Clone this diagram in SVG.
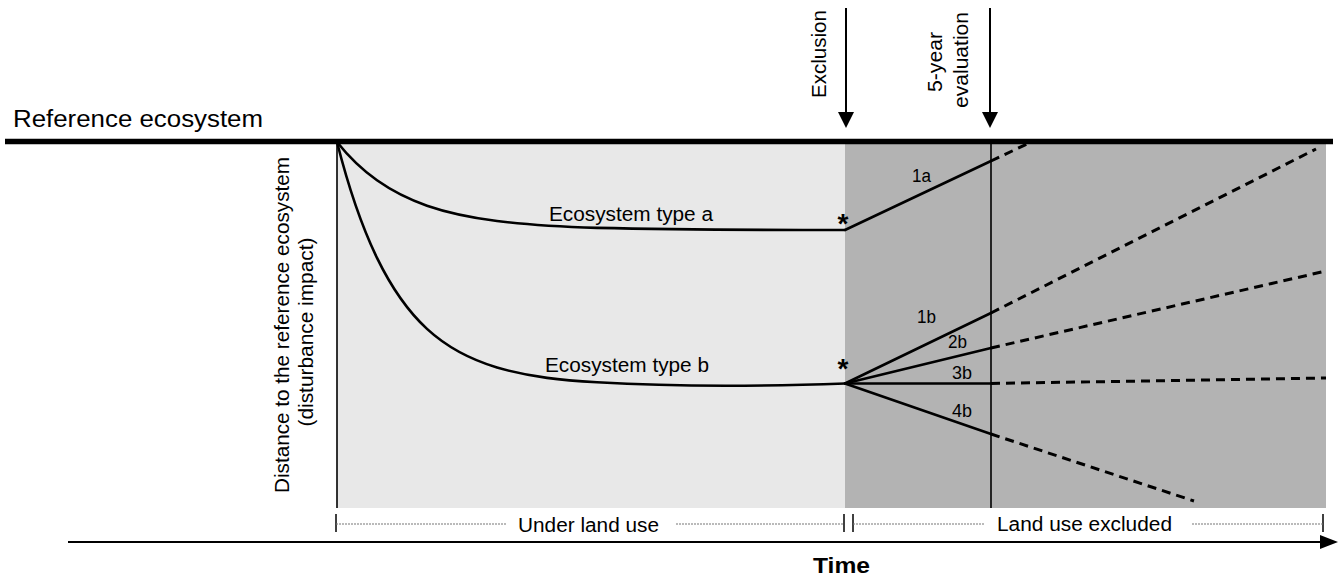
<svg xmlns="http://www.w3.org/2000/svg" width="1340" height="579" viewBox="0 0 1340 579">
<defs>
<style>
text{font-family:"Liberation Sans",Arial,sans-serif;fill:#000}
.lbl{font-size:20px}
.num{font-size:18px}
.ast{font-size:28px;font-weight:bold}
.solid{stroke:#000;stroke-width:2.6;fill:none;stroke-linecap:round}
.dash{stroke:#000;stroke-width:3;fill:none;stroke-dasharray:9 6}
.dot{stroke:#777;stroke-width:1.2;stroke-dasharray:2 1;fill:none}
.tick{stroke:#000;stroke-width:1.5}
.vline{stroke:#000;stroke-width:1.6}
</style>
</defs>
<rect width="1340" height="579" fill="#fff"/>
<g id="background">
<rect x="337" y="144" width="508" height="364" fill="#e8e8e8"/>
<rect x="845" y="144" width="481" height="364" fill="#b3b3b3"/>
<line class="vline" x1="337" y1="142" x2="337" y2="508"/>
<line class="vline" x1="991" y1="142" x2="991" y2="508"/>
</g>
<g id="reference">
<line x1="5" y1="141.5" x2="1333" y2="141.5" stroke="#000" stroke-width="5.5"/>
<text x="13" y="127" style="font-size:23px" textLength="250" lengthAdjust="spacingAndGlyphs">Reference ecosystem</text>
</g>
<g id="yaxis-label">
<text class="lbl" transform="translate(289,325) rotate(-90)" text-anchor="middle" textLength="336" lengthAdjust="spacingAndGlyphs">Distance to the reference ecosystem</text>
<text class="lbl" transform="translate(313,332) rotate(-90)" text-anchor="middle" textLength="189" lengthAdjust="spacingAndGlyphs">(disturbance impact)</text>
</g>
<g id="events">
<line x1="846" y1="8" x2="846" y2="114" stroke="#000" stroke-width="2"/>
<polygon points="838,112 854,112 846,128" fill="#000"/>
<text class="lbl" transform="translate(826,54) rotate(-90)" text-anchor="middle" textLength="88" lengthAdjust="spacingAndGlyphs">Exclusion</text>
<line x1="990" y1="8" x2="990" y2="114" stroke="#000" stroke-width="2"/>
<polygon points="982,112 998,112 990,128" fill="#000"/>
<text class="lbl" transform="translate(942,62) rotate(-90)" text-anchor="middle" textLength="60" lengthAdjust="spacingAndGlyphs">5-year</text>
<text class="lbl" transform="translate(968,60) rotate(-90)" text-anchor="middle" textLength="96" lengthAdjust="spacingAndGlyphs">evaluation</text>
</g>
<g id="ecosystem-a">
<path class="solid" d="M337,142 C350.3,158.8 363.7,170.8 377,180.3 C393.7,192.1 410.3,199.9 427,205.7 C450.3,213.8 473.7,218 497,221 C530.3,225.3 563.7,226.9 597,227.9 C679.7,229.8 762.3,230 845,230"/>
<text class="lbl" x="549" y="221" textLength="164" lengthAdjust="spacingAndGlyphs">Ecosystem type a</text>
<text class="ast" x="843" y="233" text-anchor="middle">*</text>
</g>
<g id="ecosystem-b">
<path class="solid" d="M337,142 C350.3,194.5 363.7,230.4 377,257.9 C393.7,292.3 410.3,313.5 427,328.9 C450.3,350.4 473.7,360.5 497,367.5 C530.3,377.4 563.7,380.3 597,382.3 C679.7,387.2 762.3,386.5 845,383.5"/>
<text class="lbl" x="545" y="372" textLength="164" lengthAdjust="spacingAndGlyphs">Ecosystem type b</text>
<text class="ast" x="843" y="378" text-anchor="middle">*</text>
</g>
<g id="trajectories">
<line class="solid" x1="845" y1="230" x2="991" y2="161"/>
<line class="dash" x1="991" y1="161" x2="1027" y2="144"/>
<line class="solid" x1="845" y1="383.5" x2="991" y2="313"/>
<line class="dash" x1="991" y1="313" x2="1316" y2="149"/>
<line class="solid" x1="845" y1="383.5" x2="991" y2="348"/>
<line class="dash" x1="991" y1="348" x2="1326" y2="271"/>
<line class="solid" x1="845" y1="383.5" x2="991" y2="383.5"/>
<line class="dash" x1="991" y1="383.5" x2="1326" y2="378"/>
<line class="solid" x1="845" y1="383.5" x2="991" y2="434"/>
<line class="dash" x1="991" y1="434" x2="1194" y2="501"/>
<text class="num" x="912" y="182" textLength="19" lengthAdjust="spacingAndGlyphs">1a</text>
<text class="num" x="917" y="323" textLength="19" lengthAdjust="spacingAndGlyphs">1b</text>
<text class="num" x="948" y="348" textLength="19" lengthAdjust="spacingAndGlyphs">2b</text>
<text class="num" x="952" y="379" textLength="20" lengthAdjust="spacingAndGlyphs">3b</text>
<text class="num" x="952" y="417" textLength="20" lengthAdjust="spacingAndGlyphs">4b</text>
</g>
<g id="periods">
<line class="tick" x1="336" y1="514" x2="336" y2="532"/>
<line class="tick" x1="844" y1="514" x2="844" y2="532"/>
<line class="tick" x1="853" y1="514" x2="853" y2="532"/>
<line class="tick" x1="1323" y1="514" x2="1323" y2="532"/>
<line class="dot" x1="336" y1="524" x2="507" y2="524"/>
<line class="dot" x1="676" y1="524" x2="844" y2="524"/>
<line class="dot" x1="853" y1="524" x2="985" y2="524"/>
<line class="dot" x1="1192" y1="524" x2="1323" y2="524"/>
<text class="lbl" x="518" y="532" textLength="141" lengthAdjust="spacingAndGlyphs">Under land use</text>
<text class="lbl" x="997" y="531" textLength="175" lengthAdjust="spacingAndGlyphs">Land use excluded</text>
</g>
<g id="time-axis">
<line x1="68" y1="542" x2="1322" y2="542" stroke="#000" stroke-width="2"/>
<polygon points="1320,535 1338,542 1320,549" fill="#000"/>
<text x="813" y="573" style="font-size:22px;font-weight:bold" textLength="57" lengthAdjust="spacingAndGlyphs">Time</text>
</g>
</svg>
